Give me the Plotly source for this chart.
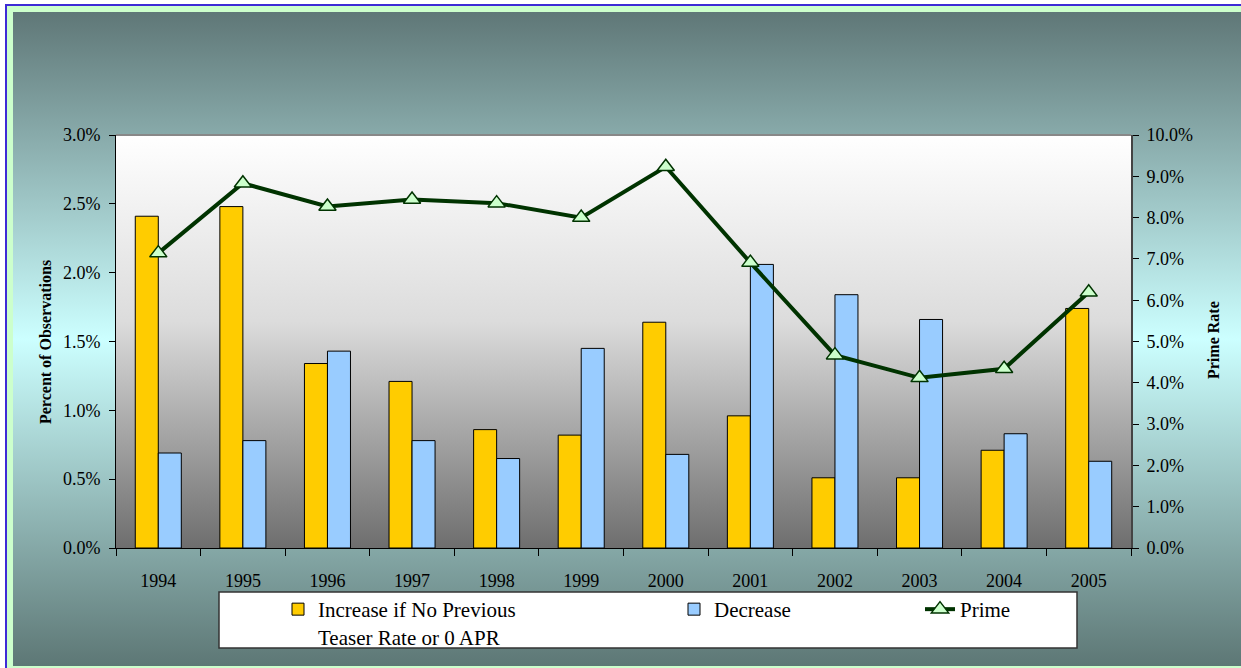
import base64
import plotly.graph_objects as go

years = ["1994", "1995", "1996", "1997", "1998", "1999", "2000", "2001", "2002", "2003", "2004", "2005"]
increase = [2.41, 2.48, 1.34, 1.21, 0.86, 0.82, 1.64, 0.96, 0.51, 0.51, 0.71, 1.74]
decrease = [0.69, 0.78, 1.43, 0.78, 0.65, 1.45, 0.68, 2.06, 1.84, 1.66, 0.83, 0.63]
prime = [7.14, 8.83, 8.27, 8.44, 8.35, 8.00, 9.23, 6.91, 4.67, 4.12, 4.34, 6.19]

W, H = 1241, 668
L, R, T, B = 116, 1131, 135, 548
PW, PH = R - L, B - T
FONT = "Liberation Serif, Times New Roman, serif"


def px_x(v):
    return (v - L) / PW


def px_y(v):
    return (B - v) / PH


def svg_uri(svg):
    return "data:image/svg+xml;base64," + base64.b64encode(svg.encode()).decode()


outer_svg = f"""<svg xmlns="http://www.w3.org/2000/svg" width="{W}" height="{H}" viewBox="0 0 {W} {H}" preserveAspectRatio="none">
<defs><linearGradient id="g" x1="0" y1="0" x2="0" y2="1">
<stop offset="0" stop-color="#5f7777"/><stop offset="0.5" stop-color="#ccffff"/><stop offset="1" stop-color="#5d7775"/>
</linearGradient></defs>
<rect x="0" y="0" width="{W}" height="{H}" fill="#ffffff"/>
<rect x="6" y="5" width="{W}" height="{H}" fill="#ccffcc" stroke="#3d2bd6" stroke-width="2"/>
<rect x="13" y="12" width="{W - 13}" height="654" fill="url(#g)"/>
</svg>"""

plot_svg = f"""<svg xmlns="http://www.w3.org/2000/svg" width="{PW}" height="{PH}" viewBox="0 0 {PW} {PH}" preserveAspectRatio="none">
<defs><linearGradient id="p" x1="0" y1="0" x2="0" y2="1">
<stop offset="0" stop-color="#ffffff"/><stop offset="0.45" stop-color="#dcdcdc"/><stop offset="1" stop-color="#6e6e6e"/>
</linearGradient></defs>
<rect x="0" y="0" width="{PW}" height="{PH}" fill="url(#p)"/>
</svg>"""

fig = go.Figure()
fig.add_trace(go.Bar(
    x=years, y=increase, name="Increase if No Previous<br>Teaser Rate or 0 APR",
    marker=dict(color="#ffcc00", line=dict(color="#000000", width=1)),
    legendwidth=351,
))
fig.add_trace(go.Bar(
    x=years, y=decrease, name="Decrease",
    marker=dict(color="#99ccff", line=dict(color="#000000", width=1)),
    legendwidth=201,
))
fig.add_trace(go.Scatter(
    x=years, y=prime, name="Prime", yaxis="y2", mode="lines+markers",
    line=dict(color="#003300", width=4),
    marker=dict(symbol="triangle-up", size=15, color="#ccffcc", line=dict(color="#003300", width=1.5)),
))

fig.update_layout(
    width=W, height=H,
    margin=dict(l=L, r=W - R, t=T, b=H - B, autoexpand=False),
    paper_bgcolor="#ffffff", plot_bgcolor="rgba(0,0,0,0)",
    font=dict(family=FONT, size=18, color="#000000"),
    barmode="group", bargap=0.456, bargroupgap=0,
    showlegend=True,
    legend=dict(
        orientation="h", x=px_x(278), y=px_y(589), xanchor="left", yanchor="top",
        bgcolor="rgba(0,0,0,0)", borderwidth=0, valign="top",
        font=dict(family=FONT, size=21, color="#000000"),
        traceorder="normal",
    ),
    xaxis=dict(
        type="category", range=[-0.5, len(years) - 0.5], tickson="boundaries",
        ticks="outside", ticklen=7, tickcolor="#000",
        showline=True, linecolor="#000", linewidth=1, showgrid=False,
        tickfont=dict(family=FONT, size=18), ticklabelstandoff=16,
    ),
    yaxis=dict(
        range=[0, 3], dtick=0.5, tickformat=".1f", ticksuffix="%",
        ticks="outside", ticklen=6, tickcolor="#000",
        showline=True, linecolor="#000", linewidth=1, showgrid=False, zeroline=False,
        tickfont=dict(family=FONT, size=18), ticklabelstandoff=5,
    ),
    yaxis2=dict(
        range=[0, 10], dtick=1, tickformat=".1f", ticksuffix="%", overlaying="y", side="right",
        ticks="outside", ticklen=6, tickcolor="#000",
        showline=True, linecolor="#444", linewidth=2, showgrid=False, zeroline=False,
        tickfont=dict(family=FONT, size=18), ticklabelstandoff=4,
    ),
    images=[
        dict(source=svg_uri(outer_svg), xref="paper", yref="paper",
             x=px_x(0), y=px_y(0), sizex=W / PW, sizey=H / PH,
             xanchor="left", yanchor="top", sizing="stretch", layer="below"),
        dict(source=svg_uri(plot_svg), xref="paper", yref="paper",
             x=0, y=1, sizex=1, sizey=1,
             xanchor="left", yanchor="top", sizing="stretch", layer="below"),
    ],
    shapes=[
        dict(type="line", xref="paper", yref="paper", x0=0, x1=1, y0=1, y1=1,
             line=dict(color="#888888", width=2)),
        dict(type="rect", xref="paper", yref="paper",
             x0=px_x(219), x1=px_x(1077), y0=px_y(592), y1=px_y(648),
             fillcolor="#ffffff", line=dict(color="#333333", width=1.5), layer="below"),
    ],
    annotations=[
        dict(text="<b>Percent of Observations</b>", textangle=-90, xref="paper", yref="paper",
             x=px_x(45), y=px_y(342), xanchor="center", yanchor="middle",
             showarrow=False, font=dict(family=FONT, size=16)),
        dict(text="<b>Prime Rate</b>", textangle=-90, xref="paper", yref="paper",
             x=px_x(1213), y=px_y(340), xanchor="center", yanchor="middle",
             showarrow=False, font=dict(family=FONT, size=16)),
    ],
)

fig.write_html("out.html")
